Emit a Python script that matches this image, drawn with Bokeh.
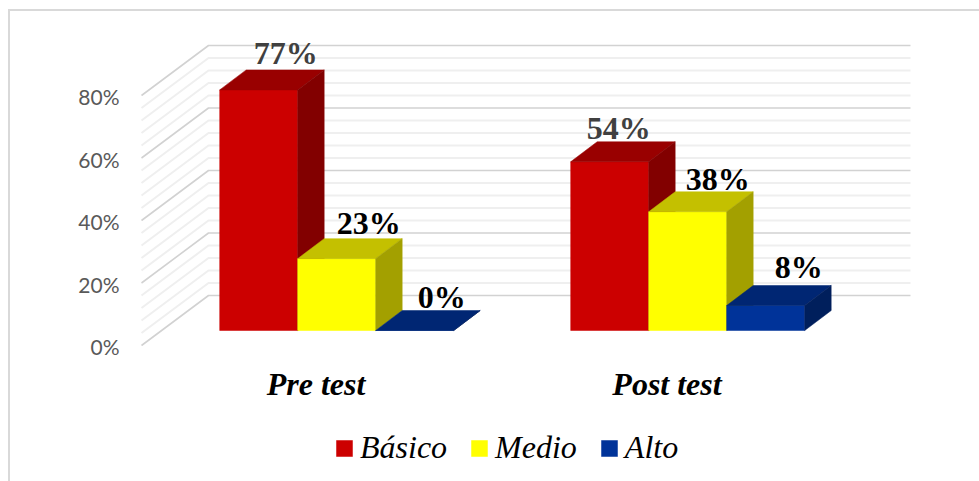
from bokeh.plotting import figure
from bokeh.models import (ColumnDataSource, FixedTicker, Legend, LegendItem, LinearAxis,
                          PrintfTickFormatter, Range1d)
from bokeh.core.properties import value
from bokeh.embed import file_html
from bokeh.resources import INLINE

# ---- data ----
categories = ["Pre test", "Post test"]
basico = [77, 54]
medio = [23, 38]
alto = [0, 8]
series_names = ["Básico", "Medio", "Alto"]
y_ticks = [0, 20, 40, 60, 80]
grid_values = [0, 4, 8, 12, 16, 20, 24, 28, 32, 36, 40, 44, 48, 52, 56, 60, 64, 68, 72, 76, 80]

# ---- layout (page px -> data units) ----
PX_PER_CAT, X0 = 351.0, 315.5
PX_PER_PCT, Y0 = 3.125, 346.0
def X(px): return (px - X0) / PX_PER_CAT
def Y(py): return (Y0 - py) / PX_PER_PCT

BAR_START = X(219.2)
BAR_W = 78.0 / PX_PER_CAT
DEPTH_X = 26.5 / PX_PER_CAT
DEPTH_Y = 20 / PX_PER_PCT
BASE_Y = Y(330)

FRAME_L, FRAME_R, FRAME_T, FRAME_B = 125, 960, 20, 480

p = figure(frame_width=FRAME_R - FRAME_L, frame_height=FRAME_B - FRAME_T,
           output_backend="svg", toolbar_location=None,
           x_range=Range1d(X(FRAME_L), X(FRAME_R)), y_range=Range1d(Y(FRAME_B), Y(FRAME_T)),
           min_border_left=115, min_border_right=19, min_border_top=9, min_border_bottom=1,
           outline_line_color=None, background_fill_color="white", border_fill_color="white")
p.styles = {"border-left": "2px solid #d9d9d9", "border-top": "2px solid #d9d9d9"}
p.margin = (9, 0, 0, 8)
p.xgrid.visible = False
p.ygrid.visible = False
p.xaxis.visible = False
p.yaxis.visible = False

# ---- walls: grid lines ----
SIDE_L, SIDE_R, GRID_R = X(141), X(208), X(910)
FRONT0, BACK0 = Y(345), Y(295)
for v in grid_values:
    major = v % 20 == 0
    p.line([SIDE_L, SIDE_R, GRID_R], [FRONT0 + v, BACK0 + v, BACK0 + v],
           line_color="#d2d2d2" if major else "#efefef", line_width=1.6 if major else 2.0)

# ---- bars ----
def faces(vals, idx):
    xs_f, ys_f, xs_t, ys_t, xs_s, ys_s = [], [], [], [], [], []
    for c, v in enumerate(vals):
        l = c + BAR_START + idx * BAR_W
        r = l + BAR_W
        b, t = BASE_Y, BASE_Y + v
        xs_f.append([l, r, r, l]); ys_f.append([b, b, t, t])
        xs_t.append([l, r, r + DEPTH_X, l + DEPTH_X]); ys_t.append([t, t, t + DEPTH_Y, t + DEPTH_Y])
        xs_s.append([r, r + DEPTH_X, r + DEPTH_X, r]); ys_s.append([b, b + DEPTH_Y, t + DEPTH_Y, t])
    return xs_f, ys_f, xs_t, ys_t, xs_s, ys_s

palette = [("#cc0000", "#990000", "#820000"),
           ("#ffff00", "#c4c000", "#a3a000"),
           ("#003399", "#002673", "#001f5c")]
items = []
for i, (vals, name) in enumerate(zip([basico, medio, alto], series_names)):
    xf, yf, xt, yt, xs, ys = faces(vals, i)
    front, top, side = palette[i]
    rf = p.patches(xf, yf, fill_color=front, line_color=front, line_width=0.5)
    p.patches(xt, yt, fill_color=top, line_color=top, line_width=0.5)
    p.patches(xs, ys, fill_color=side, line_color=side, line_width=0.5)
    items.append(LegendItem(label=name, renderers=[rf]))

# ---- data labels ----
label_dx = [[27, 32, 27], [9, 30, 33]]
label_dy = [[37, 36, 34], [34, 33, 39]]
label_col = [["#404040", "#000000", "#000000"], ["#404040", "#000000", "#000000"]]
lab = dict(x=[], y=[], t=[], dx=[], dy=[], c=[])
for c in range(2):
    for i, vals in enumerate([basico, medio, alto]):
        lab["x"].append(c + BAR_START + (i + 0.5) * BAR_W)
        lab["y"].append(BASE_Y + vals[c])
        lab["t"].append(f"{vals[c]}%")
        lab["dx"].append(label_dx[c][i])
        lab["dy"].append(-label_dy[c][i])
        lab["c"].append(label_col[c][i])
p.text("x", "y", text="t", x_offset="dx", y_offset="dy", text_color="c",
       source=ColumnDataSource(lab), text_align="center", text_baseline="alphabetic",
       text_font=value("Liberation Serif"), text_font_style="bold", text_font_size="32px")

# ---- axes ----
ya = LinearAxis(ticker=FixedTicker(ticks=y_ticks), formatter=PrintfTickFormatter(format="%d%%"),
                axis_line_color=None, major_tick_line_color=None, minor_tick_line_color=None,
                major_tick_out=0, major_tick_in=0, minor_tick_out=0, minor_tick_in=0,
                major_label_text_font="Lato", major_label_text_font_size="21px",
                major_label_text_color="#595959", major_label_standoff=6)
p.add_layout(ya, "left")
xa = LinearAxis(ticker=FixedTicker(ticks=[0, 1]), fixed_location=Y(360),
                major_label_overrides={i: c for i, c in enumerate(categories)},
                axis_line_color=None, major_tick_line_color=None, minor_tick_line_color=None,
                major_tick_out=0, major_tick_in=0, minor_tick_out=0, minor_tick_in=0,
                major_label_text_font="Liberation Serif", major_label_text_font_style="bold italic",
                major_label_text_font_size="32px", major_label_text_color="#000000",
                major_label_standoff=5)
p.add_layout(xa, "below")

legend = Legend(items=items, orientation="horizontal", location=(209, 14),
                label_text_font="Liberation Serif", label_text_font_style="italic",
                label_text_font_size="32px", label_text_color="#000000",
                glyph_width=20, glyph_height=20, label_standoff=6, spacing=22,
                padding=0, margin=0, border_line_color=None, background_fill_alpha=0)
p.add_layout(legend, "center")

open("out.html", "w").write(file_html(p, INLINE))
